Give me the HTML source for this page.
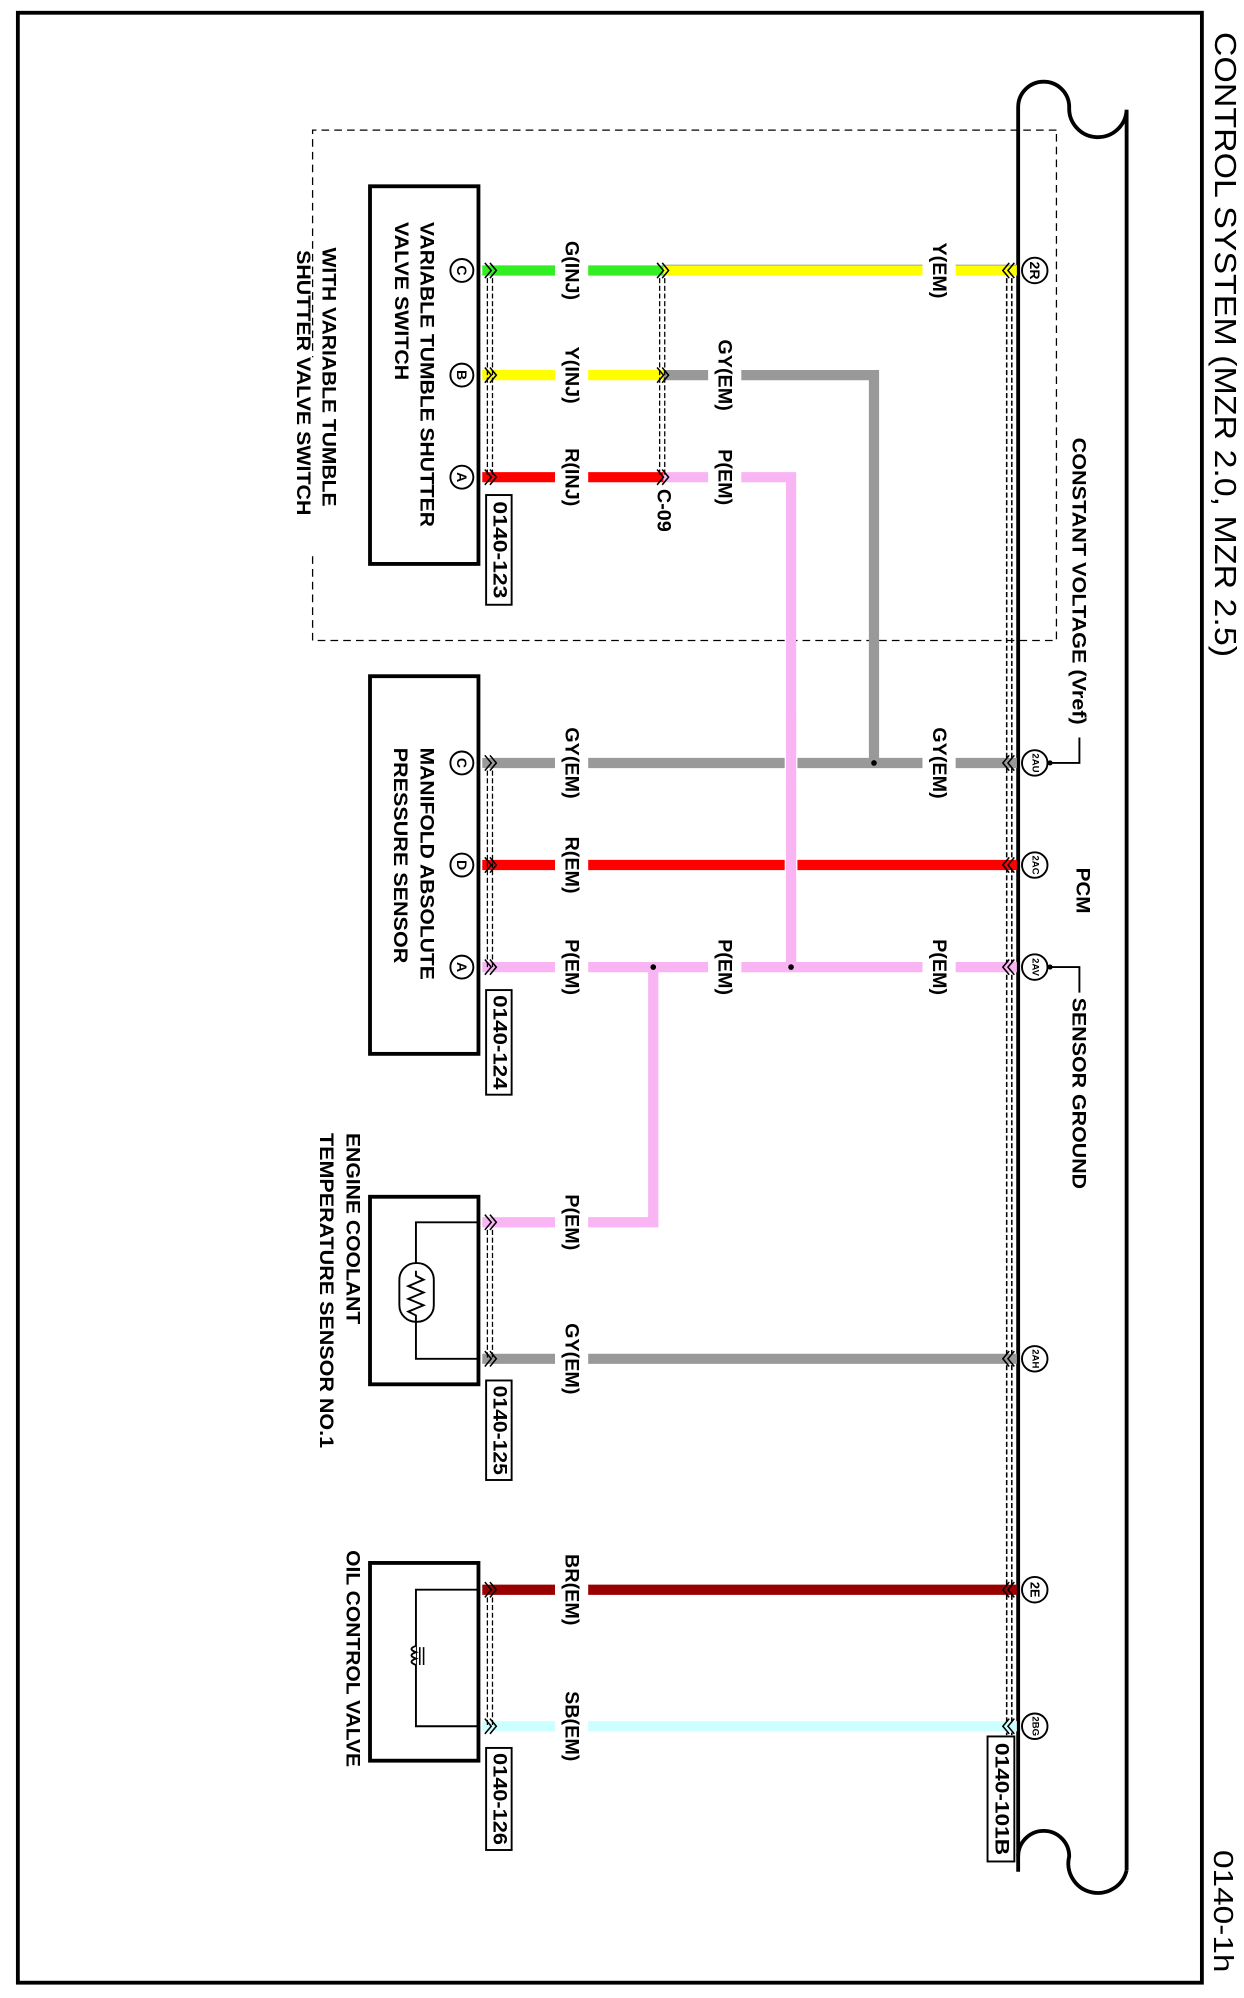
<!DOCTYPE html>
<html><head><meta charset="utf-8"><style>
html,body{margin:0;padding:0;background:#fff;}
svg{display:block;}
text{font-family:"Liberation Sans",Arial,sans-serif;fill:#000;dominant-baseline:central;}
.w{fill:none;stroke-width:8;stroke-linecap:butt;}
.lb{font-size:15.5px;font-weight:bold;}
.dv{font-size:15px;font-weight:bold;}
</style></head><body>
<svg width="1244" height="1998" viewBox="0 0 975 1566" preserveAspectRatio="none" xmlns="http://www.w3.org/2000/svg">
<rect width="975" height="1566" fill="#fff"/>
<rect x="14" y="10" width="928" height="1544" fill="none" stroke="#000" stroke-width="3"/>
<text transform="translate(960,25) rotate(90)" font-size="24" textLength="490" lengthAdjust="spacingAndGlyphs">CONTROL SYSTEM (MZR 2.0, MZR 2.5)</text>
<text transform="translate(959,1450) rotate(90)" font-size="22" textLength="96" lengthAdjust="spacingAndGlyphs">0140-1h</text>

<path d="M828,102 L245,102 L245,280 M245,436 L245,502 L828,502 L828,102" fill="none" stroke="#000" stroke-width="1" stroke-dasharray="6,4"/>

<path d="M798,1467 L798,84 A20,20 0 0 1 838,84 A22.5,22.5 0 0 0 883,86 L883,1466" fill="none" stroke="#000" stroke-width="3"/>
<path d="M798,1455 A20,20 0 0 1 838,1455 A22.5,22.5 0 0 0 883,1466" fill="none" stroke="#000" stroke-width="3"/>

<g stroke="#000" stroke-width="1.2" stroke-dasharray="4,2">
<line x1="789" y1="218" x2="789" y2="1360"/>
<line x1="793" y1="218" x2="793" y2="1360"/>
</g>

<line class="w" x1="378" y1="212" x2="520" y2="212" stroke="#33ee22"/>
<line class="w" x1="378" y1="294" x2="520" y2="294" stroke="#ffff00"/>
<line class="w" x1="378" y1="374" x2="520" y2="374" stroke="#ff0000"/>
<line x1="520" y1="208" x2="797" y2="208" stroke="#776" stroke-width="1"/>
<line class="w" x1="520" y1="212" x2="797" y2="212" stroke="#ffff00" stroke-width="7"/>
<polyline class="w" points="520,294 685,294 685,598" stroke="#999"/>
<polyline class="w" points="520,374 620,374 620,758" stroke="#f9b4f4"/>

<line class="w" x1="378" y1="598" x2="797" y2="598" stroke="#999"/>
<line class="w" x1="378" y1="678" x2="797" y2="678" stroke="#ff0000"/>
<line class="w" x1="378" y1="758" x2="797" y2="758" stroke="#f9b4f4"/>
<line x1="616" y1="592" x2="616" y2="604" stroke="#fff" stroke-width="2"/>
<line x1="624" y1="592" x2="624" y2="604" stroke="#fff" stroke-width="2"/>
<line x1="616" y1="672" x2="616" y2="684" stroke="#fff" stroke-width="2"/>
<line x1="624" y1="672" x2="624" y2="684" stroke="#fff" stroke-width="2"/>
<line class="w" x1="620" y1="560" x2="620" y2="758" stroke="#f9b4f4"/>
<polyline class="w" points="512,758 512,958 378,958" stroke="#f9b4f4"/>
<circle cx="685" cy="598" r="2.2" fill="#000"/>
<circle cx="620" cy="758" r="2.2" fill="#000"/>
<circle cx="512" cy="758" r="2.2" fill="#000"/>

<line class="w" x1="378" y1="1065" x2="797" y2="1065" stroke="#999"/>
<line class="w" x1="378" y1="1246" x2="797" y2="1246" stroke="#990000"/>
<line class="w" x1="378" y1="1353" x2="797" y2="1353" stroke="#ccffff"/>

<g fill="#fff">
<rect x="435" y="180" width="26" height="64"/>
<rect x="435" y="262" width="26" height="64"/>
<rect x="435" y="342" width="26" height="64"/>
<rect x="555" y="262" width="26" height="64"/>
<rect x="555" y="342" width="26" height="64"/>
<rect x="723" y="182" width="26" height="60"/>
<rect x="435" y="566" width="26" height="64"/>
<rect x="723" y="566" width="26" height="64"/>
<rect x="435" y="648" width="26" height="60"/>
<rect x="435" y="728" width="26" height="60"/>
<rect x="555" y="728" width="26" height="60"/>
<rect x="723" y="728" width="26" height="60"/>
<rect x="435" y="928" width="26" height="60"/>
<rect x="435" y="1033" width="26" height="64"/>
<rect x="435" y="1214" width="26" height="64"/>
<rect x="435" y="1321" width="26" height="64"/>
</g>

<g class="lb">
<text transform="translate(448,212) rotate(90)" text-anchor="middle">G(INJ)</text>
<text transform="translate(448,294) rotate(90)" text-anchor="middle">Y(INJ)</text>
<text transform="translate(448,374) rotate(90)" text-anchor="middle">R(INJ)</text>
<text transform="translate(568,294) rotate(90)" text-anchor="middle">GY(EM)</text>
<text transform="translate(568,374) rotate(90)" text-anchor="middle">P(EM)</text>
<text transform="translate(736,212) rotate(90)" text-anchor="middle">Y(EM)</text>
<text transform="translate(520,400) rotate(90)" text-anchor="middle">C-09</text>
<text transform="translate(448,598) rotate(90)" text-anchor="middle">GY(EM)</text>
<text transform="translate(736,598) rotate(90)" text-anchor="middle">GY(EM)</text>
<text transform="translate(448,678) rotate(90)" text-anchor="middle">R(EM)</text>
<text transform="translate(448,758) rotate(90)" text-anchor="middle">P(EM)</text>
<text transform="translate(568,758) rotate(90)" text-anchor="middle">P(EM)</text>
<text transform="translate(736,758) rotate(90)" text-anchor="middle">P(EM)</text>
<text transform="translate(448,958) rotate(90)" text-anchor="middle">P(EM)</text>
<text transform="translate(448,1065) rotate(90)" text-anchor="middle">GY(EM)</text>
<text transform="translate(448,1246) rotate(90)" text-anchor="middle">BR(EM)</text>
<text transform="translate(448,1353) rotate(90)" text-anchor="middle">SB(EM)</text>
</g>

<g fill="none" stroke="#000" stroke-width="1.2">
<path d="M380,206 l5,6 l-5,6 M384,206 l5,6 l-5,6 M380,288 l5,6 l-5,6 M384,288 l5,6 l-5,6 M380,368 l5,6 l-5,6 M384,368 l5,6 l-5,6"/>
<path d="M515,206 l5,6 l-5,6 M519,206 l5,6 l-5,6 M515,288 l5,6 l-5,6 M519,288 l5,6 l-5,6 M515,368 l5,6 l-5,6 M519,368 l5,6 l-5,6"/>
<path d="M380,592 l5,6 l-5,6 M384,592 l5,6 l-5,6 M380,672 l5,6 l-5,6 M384,672 l5,6 l-5,6 M380,752 l5,6 l-5,6 M384,752 l5,6 l-5,6"/>
<path d="M380,952 l5,6 l-5,6 M384,952 l5,6 l-5,6 M380,1059 l5,6 l-5,6 M384,1059 l5,6 l-5,6"/>
<path d="M380,1240 l5,6 l-5,6 M384,1240 l5,6 l-5,6 M380,1347 l5,6 l-5,6 M384,1347 l5,6 l-5,6"/>
<path d="M795,206 l-5,6 l5,6 M791,206 l-5,6 l5,6 M795,592 l-5,6 l5,6 M791,592 l-5,6 l5,6 M795,672 l-5,6 l5,6 M791,672 l-5,6 l5,6 M795,752 l-5,6 l5,6 M791,752 l-5,6 l5,6 M795,1059 l-5,6 l5,6 M791,1059 l-5,6 l5,6 M795,1240 l-5,6 l5,6 M791,1240 l-5,6 l5,6 M795,1347 l-5,6 l5,6 M791,1347 l-5,6 l5,6"/>
<g stroke-dasharray="4,2" stroke-width="1">
<path d="M382,218 V374 M386,218 V374 M517,218 V374 M521,218 V374 M382,604 V758 M386,604 V758 M382,964 V1065 M386,964 V1065 M382,1252 V1353 M386,1252 V1353"/>
</g>
</g>

<g fill="none" stroke="#000" stroke-width="3">
<rect x="290" y="146" width="85" height="296"/>
<rect x="290" y="530" width="85" height="296"/>
<rect x="290" y="938" width="85" height="147"/>
<rect x="290" y="1225" width="85" height="155"/>
</g>
<g fill="none" stroke="#000" stroke-width="1.5">
<polyline points="375,958 326,958 326,1065 375,1065"/>
<rect x="313" y="990" width="27" height="46" rx="13" fill="#fff"/>
<polyline points="326,996 326,1000 332,1003 320,1008 332,1013 320,1018 332,1023 320,1028 326,1031 326,1036"/>
<polyline points="375,1246 326,1246 326,1353 375,1353"/>
<path d="M326,1290 q-7,2.5 0,5 q-7,2.5 0,5 q-7,2.5 0,5" fill="#fff"/>
<path d="M329,1291 v14 M332,1291 v14" stroke-width="1.2"/>
</g>

<g fill="#fff" stroke="#000" stroke-width="1.5">
<circle cx="362" cy="212" r="9"/><circle cx="362" cy="294" r="9"/><circle cx="362" cy="374" r="9"/>
<circle cx="362" cy="598" r="9"/><circle cx="362" cy="678" r="9"/><circle cx="362" cy="758" r="9"/>
<circle cx="811" cy="212" r="10"/><circle cx="811" cy="598" r="10"/><circle cx="811" cy="678" r="10"/><circle cx="811" cy="758" r="10"/><circle cx="811" cy="1065" r="10"/><circle cx="811" cy="1246" r="10"/><circle cx="811" cy="1353" r="10"/>
</g>
<g font-size="11" font-weight="bold">
<text transform="translate(362,212) rotate(90)" text-anchor="middle">C</text>
<text transform="translate(362,294) rotate(90)" text-anchor="middle">B</text>
<text transform="translate(362,374) rotate(90)" text-anchor="middle">A</text>
<text transform="translate(362,598) rotate(90)" text-anchor="middle">C</text>
<text transform="translate(362,678) rotate(90)" text-anchor="middle">D</text>
<text transform="translate(362,758) rotate(90)" text-anchor="middle">A</text>
<text transform="translate(811,212) rotate(90)" text-anchor="middle" font-size="11">2R</text>
<text transform="translate(811,598) rotate(90)" text-anchor="middle" font-size="7.5">2AU</text>
<text transform="translate(811,678) rotate(90)" text-anchor="middle" font-size="7.5">2AC</text>
<text transform="translate(811,758) rotate(90)" text-anchor="middle" font-size="7.5">2AV</text>
<text transform="translate(811,1065) rotate(90)" text-anchor="middle" font-size="7.5">2AH</text>
<text transform="translate(811,1246) rotate(90)" text-anchor="middle" font-size="10">2E</text>
<text transform="translate(811,1353) rotate(90)" text-anchor="middle" font-size="7.5">2BG</text>
</g>

<g fill="#fff" stroke="#000" stroke-width="1.5">
<rect x="381" y="388" width="20" height="86"/>
<rect x="381" y="776" width="20" height="82"/>
<rect x="381" y="1082" width="20" height="78"/>
<rect x="381" y="1370" width="20" height="80"/>
<rect x="774" y="1361" width="21" height="98"/>
</g>
<g font-size="15" font-weight="bold">
<text transform="translate(391,431) rotate(90)" text-anchor="middle" textLength="76" lengthAdjust="spacingAndGlyphs">0140-123</text>
<text transform="translate(391,817) rotate(90)" text-anchor="middle" textLength="74" lengthAdjust="spacingAndGlyphs">0140-124</text>
<text transform="translate(391,1121) rotate(90)" text-anchor="middle" textLength="70" lengthAdjust="spacingAndGlyphs">0140-125</text>
<text transform="translate(391,1410) rotate(90)" text-anchor="middle" textLength="72" lengthAdjust="spacingAndGlyphs">0140-126</text>
<text transform="translate(784.5,1410) rotate(90)" text-anchor="middle" textLength="88" lengthAdjust="spacingAndGlyphs">0140-101B</text>
</g>

<g fill="none" stroke="#000" stroke-width="1.5">
<polyline points="822,598 846,598 846,578"/>
<polyline points="822,758 846,758 846,778"/>
</g>
<circle cx="823" cy="598" r="2" fill="#000"/>
<circle cx="823" cy="758" r="2" fill="#000"/>

<g class="dv">
<text transform="translate(334,174) rotate(90)" textLength="239" lengthAdjust="spacingAndGlyphs">VARIABLE TUMBLE SHUTTER</text>
<text transform="translate(314,174) rotate(90)" textLength="124" lengthAdjust="spacingAndGlyphs">VALVE SWITCH</text>
<text transform="translate(257,194) rotate(90)" textLength="203" lengthAdjust="spacingAndGlyphs">WITH VARIABLE TUMBLE</text>
<text transform="translate(237,196) rotate(90)" textLength="208" lengthAdjust="spacingAndGlyphs">SHUTTER VALVE SWITCH</text>
<text transform="translate(334,586) rotate(90)" textLength="182" lengthAdjust="spacingAndGlyphs">MANIFOLD ABSOLUTE</text>
<text transform="translate(313,586) rotate(90)" textLength="169" lengthAdjust="spacingAndGlyphs">PRESSURE SENSOR</text>
<text transform="translate(276,888) rotate(90)" textLength="150" lengthAdjust="spacingAndGlyphs">ENGINE COOLANT</text>
<text transform="translate(255,888) rotate(90)" textLength="247" lengthAdjust="spacingAndGlyphs">TEMPERATURE SENSOR NO.1</text>
<text transform="translate(276,1215) rotate(90)" textLength="170" lengthAdjust="spacingAndGlyphs">OIL CONTROL VALVE</text>
<text transform="translate(845,343) rotate(90)" textLength="225" lengthAdjust="spacingAndGlyphs">CONSTANT VOLTAGE (Vref)</text>
<text transform="translate(848,680) rotate(90)" textLength="36" lengthAdjust="spacingAndGlyphs">PCM</text>
<text transform="translate(845,782) rotate(90)" textLength="150" lengthAdjust="spacingAndGlyphs">SENSOR GROUND</text>
</g>
</svg>
</body></html>
